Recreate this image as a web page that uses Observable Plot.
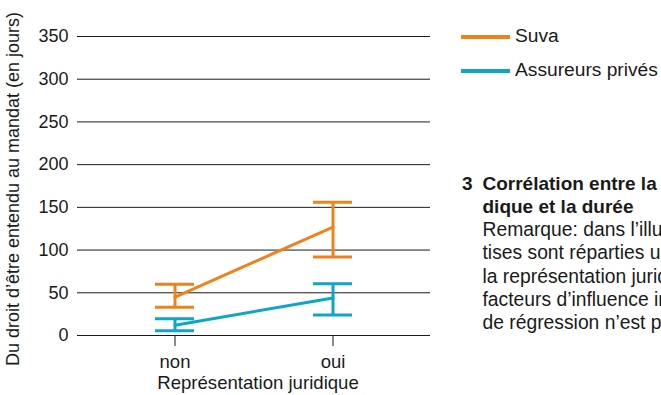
<!DOCTYPE html>
<html lang="fr">
<head>
<meta charset="utf-8">
<script src="https://cdn.jsdelivr.net/npm/d3@7"></script>
<script src="https://cdn.jsdelivr.net/npm/@observablehq/plot@0.6"></script>
<style>
  body { margin: 0; background: #fff; }
  #wrap { position: relative; width: 661px; height: 395px; overflow: hidden;
          font-family: "Liberation Sans", Arial, sans-serif; color: #1a1a1a; }
  .leg { position: absolute; left: 461px; height: 0; }
  .leg .sw { position: absolute; left: 0; width: 49px; height: 4px; margin-top: -2px; }
  .leg .lab { position: absolute; left: 54px; top: -12px; font-size: 19.2px; line-height: 22px; white-space: nowrap; }
  #caption { position: absolute; left: 462px; top: 171.5px; font-size: 19.3px; line-height: 23.3px; white-space: nowrap; }
  #caption .b { font-weight: bold; font-size: 19px; }
  #caption .ind { padding-left: 20.5px; }
  #caption .num { position: absolute; left: 0; }
</style>
</head>
<body>
<div id="wrap"></div>
<script>
// Legal representation (x categories) and the two insurer groups
const categories = ["non", "oui"];
const series = ["Suva", "Assureurs privés"];
const colors = ["#f0821e", "#0ea5c7"];

// Mean duration in days with lower / upper bounds of the interval
const suvaMean = [45, 127];
const suvaLow = [33, 92];
const suvaHigh = [60, 156];
const privMean = [12, 44];
const privLow = [5.5, 24];
const privHigh = [19.5, 60.5];

const yTicks = [0, 50, 100, 150, 200, 250, 300, 350];
const yTitle = "Du droit d’être entendu au mandat (en jours)";
const xTitle = "Représentation juridique";

const rows = [];
categories.forEach((c, i) => {
  rows.push({rep: c, serie: series[0], mean: suvaMean[i], lo: suvaLow[i], hi: suvaHigh[i]});
  rows.push({rep: c, serie: series[1], mean: privMean[i], lo: privLow[i], hi: privHigh[i]});
});

const chart = Plot.plot({
  width: 661,
  height: 395,
  marginLeft: 77,
  marginRight: 231,
  marginTop: 36,
  marginBottom: 60,
  style: {fontFamily: "'Liberation Sans', Arial, sans-serif", fontSize: "18px", color: "#1a1a1a", background: "transparent"},
  x: {type: "band", domain: categories, paddingInner: 0.753, paddingOuter: 0.49, align: 0.5},
  y: {domain: [0, 350]},
  color: {domain: series, range: colors},
  marks: [
    Plot.ruleY(yTicks, {stroke: "#1a1a1a", strokeWidth: 1}),
    Plot.axisY({ticks: yTicks, tickSize: 0, tickPadding: 9, label: null, fontSize: 18}),
    Plot.axisX({tickSize: 11, tickPadding: 8, label: null, fontSize: 18.5, stroke: "#1a1a1a"}),
    Plot.ruleX(rows, {x: "rep", y1: "lo", y2: "hi", stroke: "serie", strokeWidth: 3}),
    Plot.tickY(rows, {x: "rep", y: "hi", stroke: "serie", strokeWidth: 3}),
    Plot.tickY(rows, {x: "rep", y: "lo", stroke: "serie", strokeWidth: 3}),
    Plot.line(rows, {x: "rep", y: "mean", z: "serie", stroke: "serie", strokeWidth: 3}),
    Plot.text([xTitle], {frameAnchor: "bottom", lineAnchor: "middle", textAnchor: "middle", dx: 4, dy: 48, fontSize: 18.6, fill: "#1a1a1a"}),
    Plot.text([yTitle], {frameAnchor: "left", lineAnchor: "middle", textAnchor: "middle", rotate: -90, dx: -64, dy: 3, fontSize: 18, fill: "#1a1a1a"})
  ]
});

const wrap = document.getElementById("wrap");
wrap.appendChild(chart);

// Legend
const legendY = [36.7, 70.7];
series.forEach((s, i) => {
  const item = document.createElement("div");
  item.className = "leg";
  item.style.top = legendY[i] + "px";
  const sw = document.createElement("div");
  sw.className = "sw";
  sw.style.background = colors[i];
  const lab = document.createElement("div");
  lab.className = "lab";
  lab.textContent = s;
  item.appendChild(sw);
  item.appendChild(lab);
  wrap.appendChild(item);
});

// Figure caption
const capBold = ["Corrélation entre la représentation juri-", "dique et la durée"];
const capText = [
  "Remarque: dans l’illustration, les exper-",
  "tises sont réparties uniquement selon",
  "la représentation juridique; d’autres",
  "facteurs d’influence importants du",
  "de régression n’est pas pris en compte."
];
const cap = document.createElement("div");
cap.id = "caption";
const num = document.createElement("span");
num.className = "b num";
num.textContent = "3";
cap.appendChild(num);
capBold.forEach(t => {
  const d = document.createElement("div");
  d.className = "b ind";
  d.textContent = t;
  cap.appendChild(d);
});
capText.forEach(t => {
  const d = document.createElement("div");
  d.className = "ind";
  d.textContent = t;
  cap.appendChild(d);
});
wrap.appendChild(cap);
</script>
</body>
</html>
